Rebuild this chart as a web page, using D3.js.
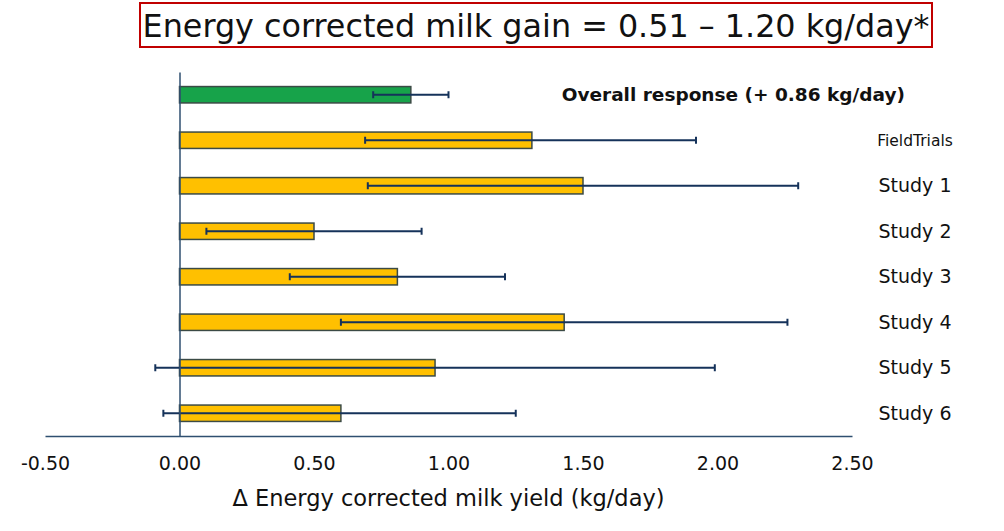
<!DOCTYPE html>
<html>
<head>
<meta charset="utf-8">
<script src="https://cdn.jsdelivr.net/npm/d3@7"></script>
<style>
  body { margin: 0; background: #fff; }
  text { font-family: "DejaVu Sans", sans-serif; fill: #111; }
</style>
</head>
<body>
<svg id="chart" width="1004" height="531"></svg>
<script>
// row labels, top to bottom
const labels = ["Overall response (+ 0.86 kg/day)", "FieldTrials", "Study 1", "Study 2", "Study 3", "Study 4", "Study 5", "Study 6"];
// mean response (kg/day)
const means = [0.86, 1.31, 1.50, 0.50, 0.81, 1.43, 0.95, 0.60];
// error bar ends
const lower = [0.72, 0.69, 0.70, 0.10, 0.41, 0.60, -0.09, -0.06];
const upper = [1.00, 1.92, 2.30, 0.90, 1.21, 2.26, 1.99, 1.25];
const tickValues = [-0.5, 0, 0.5, 1.0, 1.5, 2.0, 2.5];

const svg = d3.select("#chart");

const x = d3.scaleLinear().domain([-0.5, 2.5]).range([45, 852]);
const y = d3.scaleBand().domain(labels).range([72, 436]).paddingInner(0.64).paddingOuter(0.32);

// title box
svg.append("rect")
    .attr("x", 140).attr("y", 3).attr("width", 792).attr("height", 44)
    .attr("fill", "#fff").attr("stroke", "#c00000").attr("stroke-width", 2);
svg.append("text")
    .attr("x", 536).attr("y", 37)
    .attr("text-anchor", "middle")
    .style("font-size", "31.8px")
    .text("Energy corrected milk gain = 0.51 \u2013 1.20 kg/day*");

// bars
svg.append("g").selectAll("rect")
    .data(labels)
    .enter()
    .append("rect")
    .attr("x", x(0))
    .attr("y", d => y(d))
    .attr("width", (d, i) => x(means[i]) - x(0))
    .attr("height", y.bandwidth())
    .attr("fill", (d, i) => i === 0 ? "#17a34a" : "#ffc000")
    .attr("stroke", "#3b4a45")
    .attr("stroke-width", 1.5);

// error bars
const err = svg.append("g").attr("stroke", "#15325a").attr("stroke-width", 2);
labels.forEach((d, i) => {
    const cy = y(d) + y.bandwidth() / 2;
    err.append("line").attr("x1", x(lower[i])).attr("x2", x(upper[i])).attr("y1", cy).attr("y2", cy);
    [lower[i], upper[i]].forEach(v => {
        err.append("line").attr("x1", x(v)).attr("x2", x(v)).attr("y1", cy - 3.5).attr("y2", cy + 3.5);
    });
});

// axes
const fmt = d => d3.format(".2f")(d).replace("\u2212", "-");
const xAxis = svg.append("g")
    .attr("transform", "translate(0,436)")
    .call(d3.axisBottom(x).tickValues(tickValues).tickSize(0).tickPadding(21).tickFormat(fmt));
xAxis.select(".domain").attr("stroke", "#2f4f70").attr("stroke-width", 1.5);
xAxis.selectAll("text").style("font-size", "19px").style("font-family", "DejaVu Sans").attr("fill", "#111");

const yAxis = svg.append("g")
    .attr("transform", `translate(${x(0)},0)`)
    .call(d3.axisLeft(y).tickSize(0).tickFormat("").tickSizeOuter(0));
yAxis.select(".domain").attr("stroke", "#2f4f70").attr("stroke-width", 1.5);

// row labels on the right
svg.append("g").selectAll("text")
    .data(labels)
    .enter()
    .append("text")
    .attr("x", (d, i) => i === 0 ? 905 : 915)
    .attr("y", d => y(d) + y.bandwidth() / 2)
    .attr("dy", "0.35em")
    .attr("text-anchor", (d, i) => i === 0 ? "end" : "middle")
    .style("font-size", (d, i) => i === 0 ? "18.5px" : (i === 1 ? "15.5px" : "19px"))
    .style("font-weight", (d, i) => i === 0 ? "bold" : "normal")
    .text(d => d);

// x axis title
svg.append("text")
    .attr("x", x(1.0)).attr("y", 506)
    .attr("text-anchor", "middle")
    .style("font-size", "22.5px")
    .text("\u0394 Energy corrected milk yield (kg/day)");
</script>
</body>
</html>
